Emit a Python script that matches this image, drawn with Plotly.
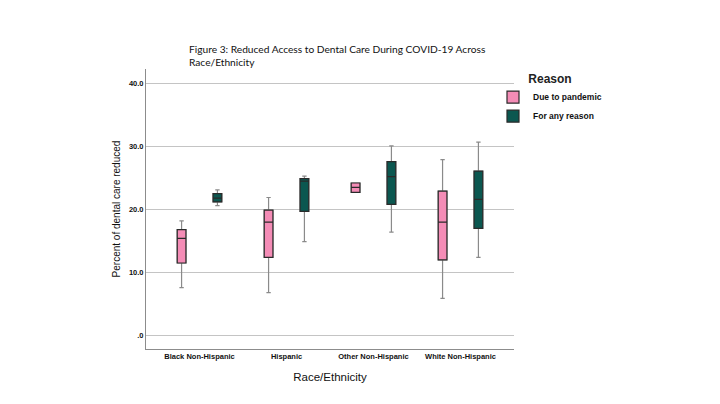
import plotly.graph_objects as go

categories = ["Black Non-Hispanic", "Hispanic", "Other Non-Hispanic", "White Non-Hispanic"]

# Due to pandemic
pan_lower = [7.6, 6.8, 22.7, 5.9]
pan_q1 = [11.5, 12.4, 22.7, 12.0]
pan_median = [15.4, 18.0, 23.5, 18.0]
pan_q3 = [16.8, 19.9, 24.2, 22.9]
pan_upper = [18.2, 21.9, 24.2, 27.9]

# For any reason
any_lower = [20.6, 14.9, 16.4, 12.4]
any_q1 = [21.2, 19.7, 20.8, 17.0]
any_median = [21.8, 24.5, 25.2, 21.6]
any_q3 = [22.5, 24.9, 27.6, 26.1]
any_upper = [23.1, 25.3, 30.1, 30.7]

y_tickvals = [0, 10, 20, 30, 40]
y_ticktext = [".0", "10.0", "20.0", "30.0", "40.0"]

PINK = "#F48CB6"
TEAL = "#0B5750"
WHISKER = "#8a8a8a"
OUTLINE = "#2a2a2a"

fig = go.Figure()

series = [
    ("Due to pandemic", "pan", PINK, pan_lower, pan_q1, pan_median, pan_q3, pan_upper),
    ("For any reason", "any", TEAL, any_lower, any_q1, any_median, any_q3, any_upper),
]

for name, grp, color, lo, q1, med, q3, up in series:
    # whiskers (gray)
    fig.add_trace(go.Box(
        name=name, x=categories, lowerfence=lo, q1=q1, median=med, q3=q3, upperfence=up,
        fillcolor=color, line=dict(color=WHISKER, width=1.2), whiskerwidth=0.5,
        offsetgroup=grp, alignmentgroup="a", showlegend=False, boxpoints=False,
        hoverinfo="skip",
    ))
    # box body (dark outline and median)
    fig.add_trace(go.Box(
        name=name, x=categories, lowerfence=q1, q1=q1, median=med, q3=q3, upperfence=q3,
        fillcolor=color, line=dict(color=OUTLINE, width=1.2), whiskerwidth=0,
        offsetgroup=grp, alignmentgroup="a", showlegend=True, boxpoints=False,
    ))

# page offset of 8px (body margin) is compensated in the margins
fig.update_layout(
    width=720, height=404,
    paper_bgcolor="white", plot_bgcolor="white",
    margin=dict(l=138, r=214, t=61, b=63),
    boxmode="group", boxgap=0.176, boxgroupgap=0.757,
    font=dict(family="Liberation Sans, Arial, sans-serif", color="#111"),
    showlegend=True,
    legend=dict(
        x=(485 - 138) / 368, xanchor="left", y=(341 - 59) / 280, yanchor="top",
        bgcolor="rgba(0,0,0,0)",
        font=dict(size=8.5, weight="bold", color="#111"),
        title=dict(text="Reason", side="top center", font=dict(size=12, weight="bold", color="#222")),
        tracegroupgap=0, itemwidth=30,
    ),
    annotations=[dict(
        text="Figure 3: Reduced Access to Dental Care During COVID-19 Across<br>Race/Ethnicity",
        xref="paper", yref="paper", x=(179 - 138) / 368, y=(341 - 33) / 280,
        xanchor="left", yanchor="top", align="left", showarrow=False,
        font=dict(family="Lato, Carlito, sans-serif", size=10.2, color="#111"),
    )],
)

fig.update_xaxes(
    type="category", categoryorder="array", categoryarray=categories,
    range=[-0.615, 3.615],
    showline=True, linecolor="#8c8c8c", linewidth=1, mirror=False,
    showgrid=False, ticks="", ticklabelstandoff=0,
    tickfont=dict(size=7.5, weight="bold", color="#111"),
    title=dict(text="Race/Ethnicity", font=dict(size=11.5, color="#111"), standoff=12),
)
fig.update_yaxes(
    range=[-2.15, 42.3],
    tickvals=y_tickvals, ticktext=y_ticktext,
    showline=True, linecolor="#8c8c8c", linewidth=1,
    showgrid=True, gridcolor="#c4c4c4", gridwidth=1, zeroline=False,
    ticks="", ticklabelstandoff=0,
    tickfont=dict(size=7.5, weight="bold", color="#111"),
    title=dict(text="Percent of dental care reduced", font=dict(size=10, color="#111"), standoff=6),
)

fig.write_html("out.html")
